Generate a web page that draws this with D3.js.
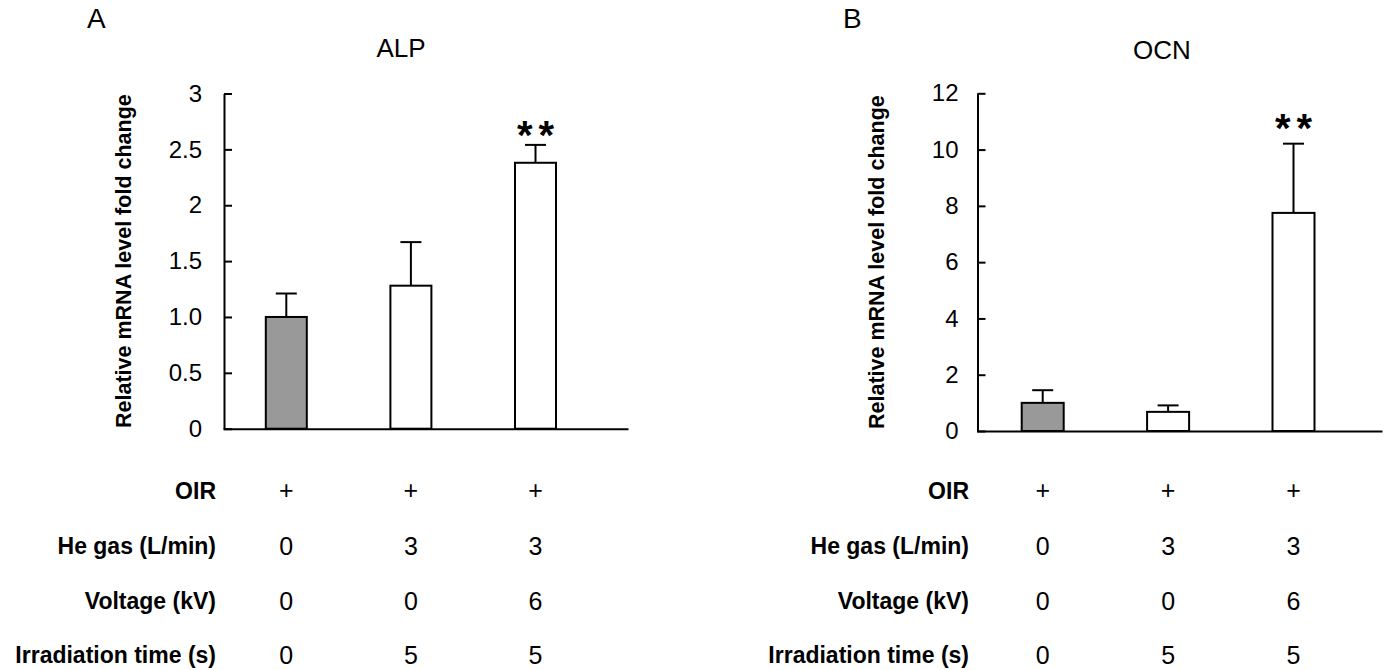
<!DOCTYPE html>
<html>
<head>
<meta charset="utf-8">
<script src="https://cdn.jsdelivr.net/npm/d3@7"></script>
<style>
  html, body { margin: 0; padding: 0; background: #fff; }
  svg { display: block; font-family: "Liberation Sans", Arial, sans-serif; }
</style>
</head>
<body>
<svg id="chart" width="1386" height="670"></svg>
<script>
// ---- data ----
const categories = ["Control", "He gas", "Plasma"];
const barFills = ["#999999", "#ffffff", "#ffffff"];

const alpMean = [1.0, 1.28, 2.38];
const alpErr = [0.21, 0.39, 0.16];
const alpTicks = [0, 0.5, 1, 1.5, 2, 2.5, 3];
const alpTickLabels = ["0", "0.5", "1.0", "1.5", "2", "2.5", "3"];
const alpSig = ["", "", "**"];

const ocnMean = [1.0, 0.68, 7.75];
const ocnErr = [0.45, 0.23, 2.46];
const ocnTicks = [0, 2, 4, 6, 8, 10, 12];
const ocnTickLabels = ["0", "2", "4", "6", "8", "10", "12"];
const ocnSig = ["", "", "**"];

const rowLabels = ["OIR", "He gas (L/min)", "Voltage (kV)", "Irradiation time (s)"];
const rowValues = [
  ["+", "+", "+"],
  ["0", "3", "3"],
  ["0", "0", "6"],
  ["0", "5", "5"]
];

const yLabel = "Relative mRNA level fold change";

// ---- layout ----
const panels = [
  { letter: "A", title: "ALP", mean: alpMean, err: alpErr, ticks: alpTicks, tickLabels: alpTickLabels, sig: alpSig,
    axisX: 224, axisEnd: 628, y0: 428.7, yTop: 93.5, domainMax: 3, first: 286.3, last: 535.5, barW: 41,
    tickPad: 22, labelX: 131, letterX: 87, titleX: 401, titleY: 57, starY: 149, tableLabelX: 216 },
  { letter: "B", title: "OCN", mean: ocnMean, err: ocnErr, ticks: ocnTicks, tickLabels: ocnTickLabels, sig: ocnSig,
    axisX: 977.5, axisEnd: 1382, y0: 431, yTop: 93.3, domainMax: 12, first: 1042.7, last: 1293.5, barW: 42,
    tickPad: 19, labelX: 884, letterX: 843, titleX: 1162, titleY: 59, starY: 142, tableLabelX: 969 }
];
const rowY = [499, 554, 608.5, 663];

const svg = d3.select("#chart");

panels.forEach(p => {
  const g = svg.append("g");
  const x = d3.scalePoint().domain(categories).range([p.first, p.last]).padding(0);
  const y = d3.scaleLinear().domain([0, p.domainMax]).range([p.y0, p.yTop]);

  // panel letter & title
  g.append("text").attr("x", p.letterX).attr("y", 28)
    .attr("font-size", 28).attr("fill", "#000").text(p.letter);
  g.append("text").attr("x", p.titleX).attr("y", p.titleY)
    .attr("text-anchor", "middle").attr("font-size", 26).attr("fill", "#000").text(p.title);

  const data = categories.map((c, i) => ({ c, m: p.mean[i], e: p.err[i], f: barFills[i], s: p.sig[i] }));

  // error bars (upper only)
  g.selectAll(".errv").data(data).enter().append("line")
    .attr("x1", d => x(d.c)).attr("x2", d => x(d.c))
    .attr("y1", d => y(d.m)).attr("y2", d => y(d.m + d.e))
    .attr("stroke", "#000").attr("stroke-width", 2);
  g.selectAll(".errc").data(data).enter().append("line")
    .attr("x1", d => x(d.c) - 10.5).attr("x2", d => x(d.c) + 10.5)
    .attr("y1", d => y(d.m + d.e)).attr("y2", d => y(d.m + d.e))
    .attr("stroke", "#000").attr("stroke-width", 2);

  // bars
  g.selectAll(".bar").data(data).enter().append("rect")
    .attr("x", d => x(d.c) - p.barW / 2)
    .attr("width", p.barW)
    .attr("y", d => y(d.m))
    .attr("height", d => y(0) - y(d.m))
    .attr("fill", d => d.f)
    .attr("stroke", "#000").attr("stroke-width", 2);

  // significance stars
  g.selectAll(".sig").data(data.filter(d => d.s)).enter().append("text")
    .attr("x", d => x(d.c) + 3).attr("y", p.starY)
    .attr("text-anchor", "middle").attr("font-size", 40).attr("font-weight", "bold")
    .attr("letter-spacing", 6).attr("fill", "#000")
    .text(d => d.s);

  // y axis
  const yAxis = d3.axisLeft(y).tickValues(p.ticks)
    .tickFormat((d, i) => p.tickLabels[i])
    .tickSizeInner(-8).tickSizeOuter(0).tickPadding(p.tickPad);
  const ya = g.append("g").attr("transform", `translate(${p.axisX},0)`).call(yAxis);
  ya.select(".domain").attr("stroke", "#000").attr("stroke-width", 2);
  ya.selectAll(".tick line").attr("stroke", "#000").attr("stroke-width", 2);
  ya.selectAll(".tick text").attr("font-size", 24).attr("fill", "#000")
    .attr("font-family", "'Liberation Sans', Arial, sans-serif");

  // x axis line
  const xl = d3.scaleLinear().domain([0, 1]).range([p.axisX - 1, p.axisEnd]);
  const xa = g.append("g").attr("transform", `translate(0,${p.y0})`)
    .call(d3.axisBottom(xl).ticks(0).tickSizeOuter(0));
  xa.select(".domain").attr("stroke", "#000").attr("stroke-width", 2);

  // y label
  g.append("text")
    .attr("transform", `translate(${p.labelX},${(p.y0 + p.yTop) / 2}) rotate(-90)`)
    .attr("text-anchor", "middle").attr("font-size", 21.5).attr("font-weight", "bold")
    .attr("fill", "#000").text(yLabel);

  // condition table
  rowLabels.forEach((lab, r) => {
    g.append("text").attr("x", p.tableLabelX).attr("y", rowY[r])
      .attr("text-anchor", "end").attr("font-size", 23).attr("font-weight", "bold")
      .attr("fill", "#000").text(lab);
    g.selectAll(null).data(rowValues[r]).enter().append("text")
      .attr("x", (d, i) => x(categories[i]))
      .attr("y", rowY[r] + (r === 0 ? 0 : 1))
      .attr("text-anchor", "middle").attr("font-size", 25).attr("fill", "#000")
      .text(d => d);
  });
});
</script>
</body>
</html>
